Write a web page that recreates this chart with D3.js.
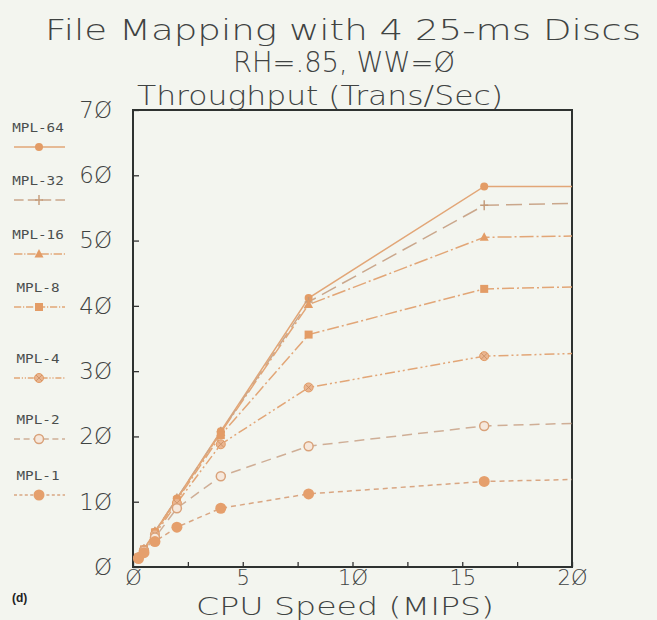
<!DOCTYPE html>
<html><head><meta charset="utf-8">
<script src="https://cdn.jsdelivr.net/npm/d3@7"></script>
<style>
html,body{margin:0;padding:0;background:#f3f5ef;}
svg{display:block;}
</style></head>
<body>
<script>
// ---- data ----
const cpuSpeeds = [0.25, 0.5, 1, 2, 4, 8, 16, 20];
const seriesNames = ["MPL-64","MPL-32","MPL-16","MPL-8","MPL-4","MPL-2","MPL-1"];
const mpl64 = [1.5, 2.7, 5.4, 10.5, 20.8, 41.2, 58.3, 58.3];
const mpl32 = [1.5, 2.7, 5.4, 10.5, 20.7, 40.6, 55.4, 55.7];
const mpl16 = [1.5, 2.7, 5.4, 10.4, 20.6, 40.2, 50.5, 50.7];
const mpl8  = [1.5, 2.7, 5.3, 10.2, 20.2, 35.6, 42.6, 42.9];
const mpl4  = [1.5, 2.6, 5.0, 9.8, 18.8, 27.5, 32.3, 32.7];
const mpl2  = [1.4, 2.5, 4.5, 9.0, 13.9, 18.5, 21.6, 22.0];
const mpl1  = [1.3, 2.2, 3.9, 6.1, 9.0, 11.2, 13.1, 13.4];
const xTickValues = [0, 2.5, 5, 7.5, 10, 12.5, 15, 17.5, 20];
const yTickValues = [0, 10, 20, 30, 40, 50, 60, 70];
const titleLines = ["File Mapping with 4 25-ms Discs", "RH=.85,  WW=Ø"];
const yTitle = "Throughput (Trans/Sec)";
const xTitle = "CPU Speed (MIPS)";
const panelLabel = "(d)";

// ---- styling ----
const W = 657, H = 620;
const FONT = "'DejaVu Sans', sans-serif";
const MONO = "'DejaVu Sans Mono', monospace";
const TXT = "#3f4342";
const LINE = "#e2a677";
const MARK = "#e39c66";
const styles = {
  "MPL-64": {dash: null,            marker: "circle",  color: LINE},
  "MPL-32": {dash: "16,7",          marker: "plus",    color: "#caa78c"},
  "MPL-16": {dash: "14,3,2,3",      marker: "triangle",color: LINE},
  "MPL-8":  {dash: "12,3,2,3",      marker: "square",  color: LINE},
  "MPL-4":  {dash: "10,3,2,3,2,3",  marker: "circlex", color: LINE},
  "MPL-2":  {dash: "10,6",          marker: "open",    color: "#cfae96"},
  "MPL-1":  {dash: "5,4",           marker: "big",     color: "#d9a682"}
};
const allSeries = [mpl64, mpl32, mpl16, mpl8, mpl4, mpl2, mpl1];

const svg = d3.select("body").append("svg").attr("width", W).attr("height", H);
svg.append("rect").attr("width", W).attr("height", H).attr("fill", "#f3f5ef");

const x = d3.scaleLinear().domain([0, 20]).range([133, 572]);
const y = d3.scaleLinear().domain([0, 70]).range([567, 110]);
const zfmt = v => String(v).replace(/0/g, "Ø");

function thinText(sel) {
  return sel.attr("font-family", FONT).attr("font-weight", 200).attr("fill", TXT);
}

// titles
thinText(svg.append("text")).attr("x", 343).attr("y", 40).attr("text-anchor", "middle")
  .attr("font-size", 28)
  .attr("textLength", 596).attr("lengthAdjust", "spacingAndGlyphs").text(titleLines[0]);
thinText(svg.append("text")).attr("x", 344).attr("y", 72).attr("text-anchor", "middle")
  .attr("font-size", 28)
  .attr("textLength", 222).attr("lengthAdjust", "spacingAndGlyphs").text(titleLines[1]);
thinText(svg.append("text")).attr("x", 137).attr("y", 105)
  .attr("font-size", 27)
  .attr("textLength", 366).attr("lengthAdjust", "spacingAndGlyphs").text(yTitle);
thinText(svg.append("text")).attr("x", 345).attr("y", 615).attr("text-anchor", "middle")
  .attr("font-size", 25)
  .attr("textLength", 298).attr("lengthAdjust", "spacingAndGlyphs").text(xTitle);
svg.append("text").attr("x", 12).attr("y", 602)
  .attr("font-family", "'Liberation Sans', Arial, sans-serif").attr("font-weight", "bold")
  .attr("font-size", 12).attr("fill", "#222").text(panelLabel);

// axes
const xAxis = d3.axisBottom(x).tickValues(xTickValues).tickSizeInner(-5).tickSizeOuter(0)
  .tickPadding(3).tickFormat(v => v % 5 === 0 ? zfmt(v) : "");
const gx = svg.append("g").attr("transform", `translate(0,${y(0)})`).call(xAxis);
const yAxis = d3.axisLeft(y).tickValues(yTickValues).tickSizeInner(-6).tickSizeOuter(0)
  .tickPadding(21).tickFormat(zfmt);
const gy = svg.append("g").attr("transform", `translate(${x(0)},0)`).call(yAxis);
[gx, gy].forEach(g => {
  g.select(".domain").remove();
  g.selectAll(".tick line").attr("stroke", "#333").attr("stroke-width", 1.3);
  g.selectAll(".tick text").attr("font-family", FONT).attr("font-weight", 200)
    .attr("fill", TXT);
});
gy.selectAll(".tick text").attr("font-size", 23);
gx.selectAll(".tick text").attr("font-size", 21);

// frame
svg.append("rect").attr("x", x(0)).attr("y", y(70))
  .attr("width", x(20) - x(0)).attr("height", y(0) - y(70))
  .attr("fill", "none").attr("stroke", "#2e3230").attr("stroke-width", 2);

// marker drawer
function drawMarker(g, kind, cx, cy) {
  const s = g.append("g").attr("transform", `translate(${cx},${cy})`);
  if (kind === "circle") s.append("circle").attr("r", 4).attr("fill", MARK);
  else if (kind === "plus") {
    s.append("path").attr("d", "M-4,0H4M0,-5V5").attr("stroke", "#c49a78").attr("stroke-width", 1.4);
  } else if (kind === "triangle") s.append("path").attr("d", "M0,-5L4.5,3.5L-4.5,3.5Z").attr("fill", MARK);
  else if (kind === "square") s.append("rect").attr("x", -4).attr("y", -4).attr("width", 8).attr("height", 8).attr("fill", MARK);
  else if (kind === "circlex") {
    s.append("circle").attr("r", 4.5).attr("fill", "#eab590").attr("stroke", MARK).attr("stroke-width", 1);
    s.append("path").attr("d", "M-3,-3L3,3M-3,3L3,-3").attr("stroke", "#c98e62").attr("stroke-width", 0.8);
  } else if (kind === "open") s.append("circle").attr("r", 4.5).attr("fill", "#f6e8dc").attr("stroke", "#d9a27a").attr("stroke-width", 1.5);
  else if (kind === "big") s.append("circle").attr("r", 5.5).attr("fill", "#e59f6c");
}

// series
const line = d3.line().x(d => x(d[0])).y(d => y(d[1]));
seriesNames.forEach((name, i) => {
  const st = styles[name];
  const pts = cpuSpeeds.map((c, j) => [c, allSeries[i][j]]);
  svg.append("path").datum(pts).attr("d", line).attr("fill", "none")
    .attr("stroke", st.color).attr("stroke-width", 1.5)
    .attr("stroke-dasharray", st.dash);
});
seriesNames.forEach((name, i) => {
  const st = styles[name];
  cpuSpeeds.forEach((c, j) => {
    if (c < 20) drawMarker(svg, st.marker, x(c), y(allSeries[i][j]));
  });
});

// legend
const legY = [132, 185, 239, 292, 363, 424, 480];
seriesNames.forEach((name, i) => {
  const st = styles[name];
  const g = svg.append("g");
  g.append("text").attr("x", 38).attr("y", legY[i]).attr("text-anchor", "middle")
    .attr("font-family", MONO).attr("font-size", 11.5).attr("fill", "#4a4e4d")
    .attr("textLength", name.length * 8.6).attr("lengthAdjust", "spacingAndGlyphs").text(name);
  const ly = legY[i] + 15;
  g.append("line").attr("x1", 14).attr("x2", 65).attr("y1", ly).attr("y2", ly)
    .attr("stroke", st.color).attr("stroke-width", 1.3).attr("stroke-dasharray", st.dash ? st.dash.split(",").map(v => v * 0.6).join(",") : null);
  drawMarker(g, st.marker, 39, ly);
});
</script>
</body></html>
